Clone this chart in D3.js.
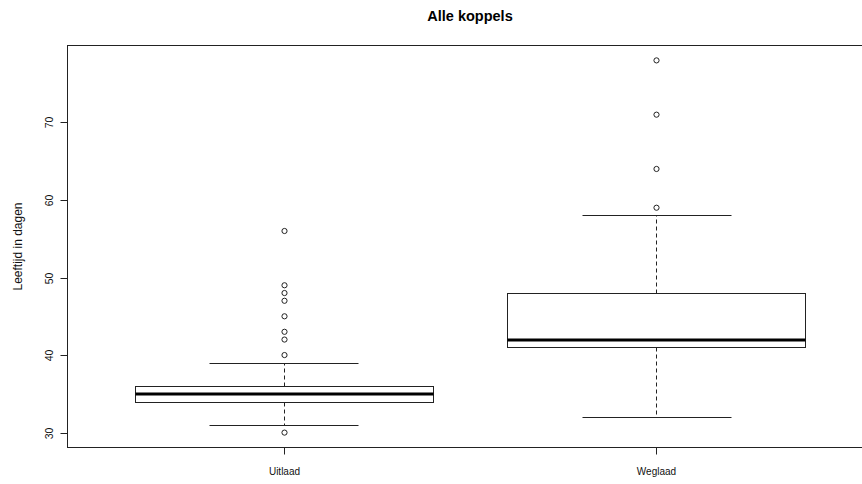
<!DOCTYPE html>
<html>
<head>
<meta charset="utf-8">
<script src="https://cdn.jsdelivr.net/npm/d3@7"></script>
<style>
  html, body { margin: 0; padding: 0; background: #fff; }
  svg { display: block; font-family: "Liberation Sans", Arial, sans-serif; }
</style>
</head>
<body>
<svg id="chart" width="862" height="484"></svg>
<script>
// Box statistics per group (days)
const categories   = ["Uitlaad", "Weglaad"];
const whiskerLow   = [31, 32];
const lowerQuart   = [34, 41];
const medians      = [35, 42];
const upperQuart   = [36, 48];
const whiskerHigh  = [39, 58];
const outliers     = [
  [30, 40, 42, 43, 45, 47, 48, 49, 56],
  [59, 64, 71, 78]
];
const yTicks = [30, 40, 50, 60, 70];

const title = "Alle koppels";
const yLabel = "Leeftijd in dagen";

const svg = d3.select("#chart");

// Plot region (right side runs past the window edge)
const plotL = 67.5, plotR = 872.5, plotT = 45.5, plotB = 447.5;

const allVals = whiskerLow.concat(whiskerHigh, outliers.flat());
const yMin = d3.min(allVals), yMax = d3.max(allVals);
const pad = (yMax - yMin) * 0.04;
const y = d3.scaleLinear().domain([yMin - pad, yMax + pad]).range([plotB, plotT]);

const n = categories.length;
const xPad = n * 0.04;
const x = d3.scaleLinear().domain([0.5 - xPad, n + 0.5 + xPad]).range([plotL, plotR]);

const boxHalf = 0.4, capHalf = 0.2;
const ink = "#222";

const groups = categories.map((c, i) => ({
  name: c, pos: i + 1,
  lo: whiskerLow[i], q1: lowerQuart[i], med: medians[i], q3: upperQuart[i], hi: whiskerHigh[i],
  out: outliers[i]
}));

const g = svg.append("g");
const px = v => Math.round(v) + 0.5;

groups.forEach(d => {
  const cx = px(x(d.pos));
  // dashed whiskers
  g.append("line").attr("x1", cx).attr("x2", cx).attr("y1", px(y(d.q3))).attr("y2", px(y(d.hi)))
    .attr("stroke", ink).attr("stroke-dasharray", "4,3");
  g.append("line").attr("x1", cx).attr("x2", cx).attr("y1", px(y(d.q1))).attr("y2", px(y(d.lo)))
    .attr("stroke", ink).attr("stroke-dasharray", "4,3");
  // staples
  [d.lo, d.hi].forEach(v => {
    g.append("line")
      .attr("x1", px(x(d.pos - capHalf))).attr("x2", px(x(d.pos + capHalf)))
      .attr("y1", px(y(v))).attr("y2", px(y(v)))
      .attr("stroke", ink);
  });
  // box
  g.append("rect")
    .attr("x", px(x(d.pos - boxHalf))).attr("y", px(y(d.q3)))
    .attr("width", px(x(d.pos + boxHalf)) - px(x(d.pos - boxHalf)))
    .attr("height", px(y(d.q1)) - px(y(d.q3)))
    .attr("fill", "#fff").attr("stroke", ink);
  // median
  g.append("line")
    .attr("x1", px(x(d.pos - boxHalf))).attr("x2", px(x(d.pos + boxHalf)))
    .attr("y1", Math.round(y(d.med))).attr("y2", Math.round(y(d.med)))
    .attr("stroke", "#000").attr("stroke-width", 3);
  // outliers
  g.selectAll(null).data(d.out).enter().append("circle")
    .attr("cx", cx).attr("cy", v => y(v)).attr("r", 2.6)
    .attr("fill", "none").attr("stroke", ink).attr("stroke-width", 1);
});

// frame
svg.append("rect")
  .attr("x", plotL).attr("y", plotT).attr("width", plotR - plotL).attr("height", plotB - plotT)
  .attr("fill", "none").attr("stroke", ink);

// y axis ticks and labels
const yAxis = svg.append("g");
yTicks.forEach(t => {
  const ty = px(y(t));
  yAxis.append("line").attr("x1", plotL - 7).attr("x2", plotL).attr("y1", ty).attr("y2", ty)
    .attr("stroke", ink);
  yAxis.append("text")
    .attr("transform", `translate(53,${ty}) rotate(-90)`)
    .attr("text-anchor", "middle")
    .attr("font-size", 10.5).attr("fill", "#111")
    .text(t);
});

// x axis ticks and labels
groups.forEach(d => {
  const cx = px(x(d.pos));
  svg.append("line").attr("x1", cx).attr("x2", cx).attr("y1", plotB).attr("y2", plotB + 7)
    .attr("stroke", ink);
  svg.append("text")
    .attr("x", cx).attr("y", 475)
    .attr("text-anchor", "middle")
    .attr("font-size", 10).attr("fill", "#111")
    .text(d.name);
});

// y label
svg.append("text")
  .attr("transform", `translate(22,${(plotT + plotB) / 2}) rotate(-90)`)
  .attr("text-anchor", "middle")
  .attr("font-size", 12).attr("fill", "#111")
  .text(yLabel);

// title
svg.append("text")
  .attr("x", (plotL + plotR) / 2).attr("y", 21)
  .attr("text-anchor", "middle")
  .attr("font-size", 14.5).attr("font-weight", "bold").attr("fill", "#000")
  .text(title);
</script>
</body>
</html>
